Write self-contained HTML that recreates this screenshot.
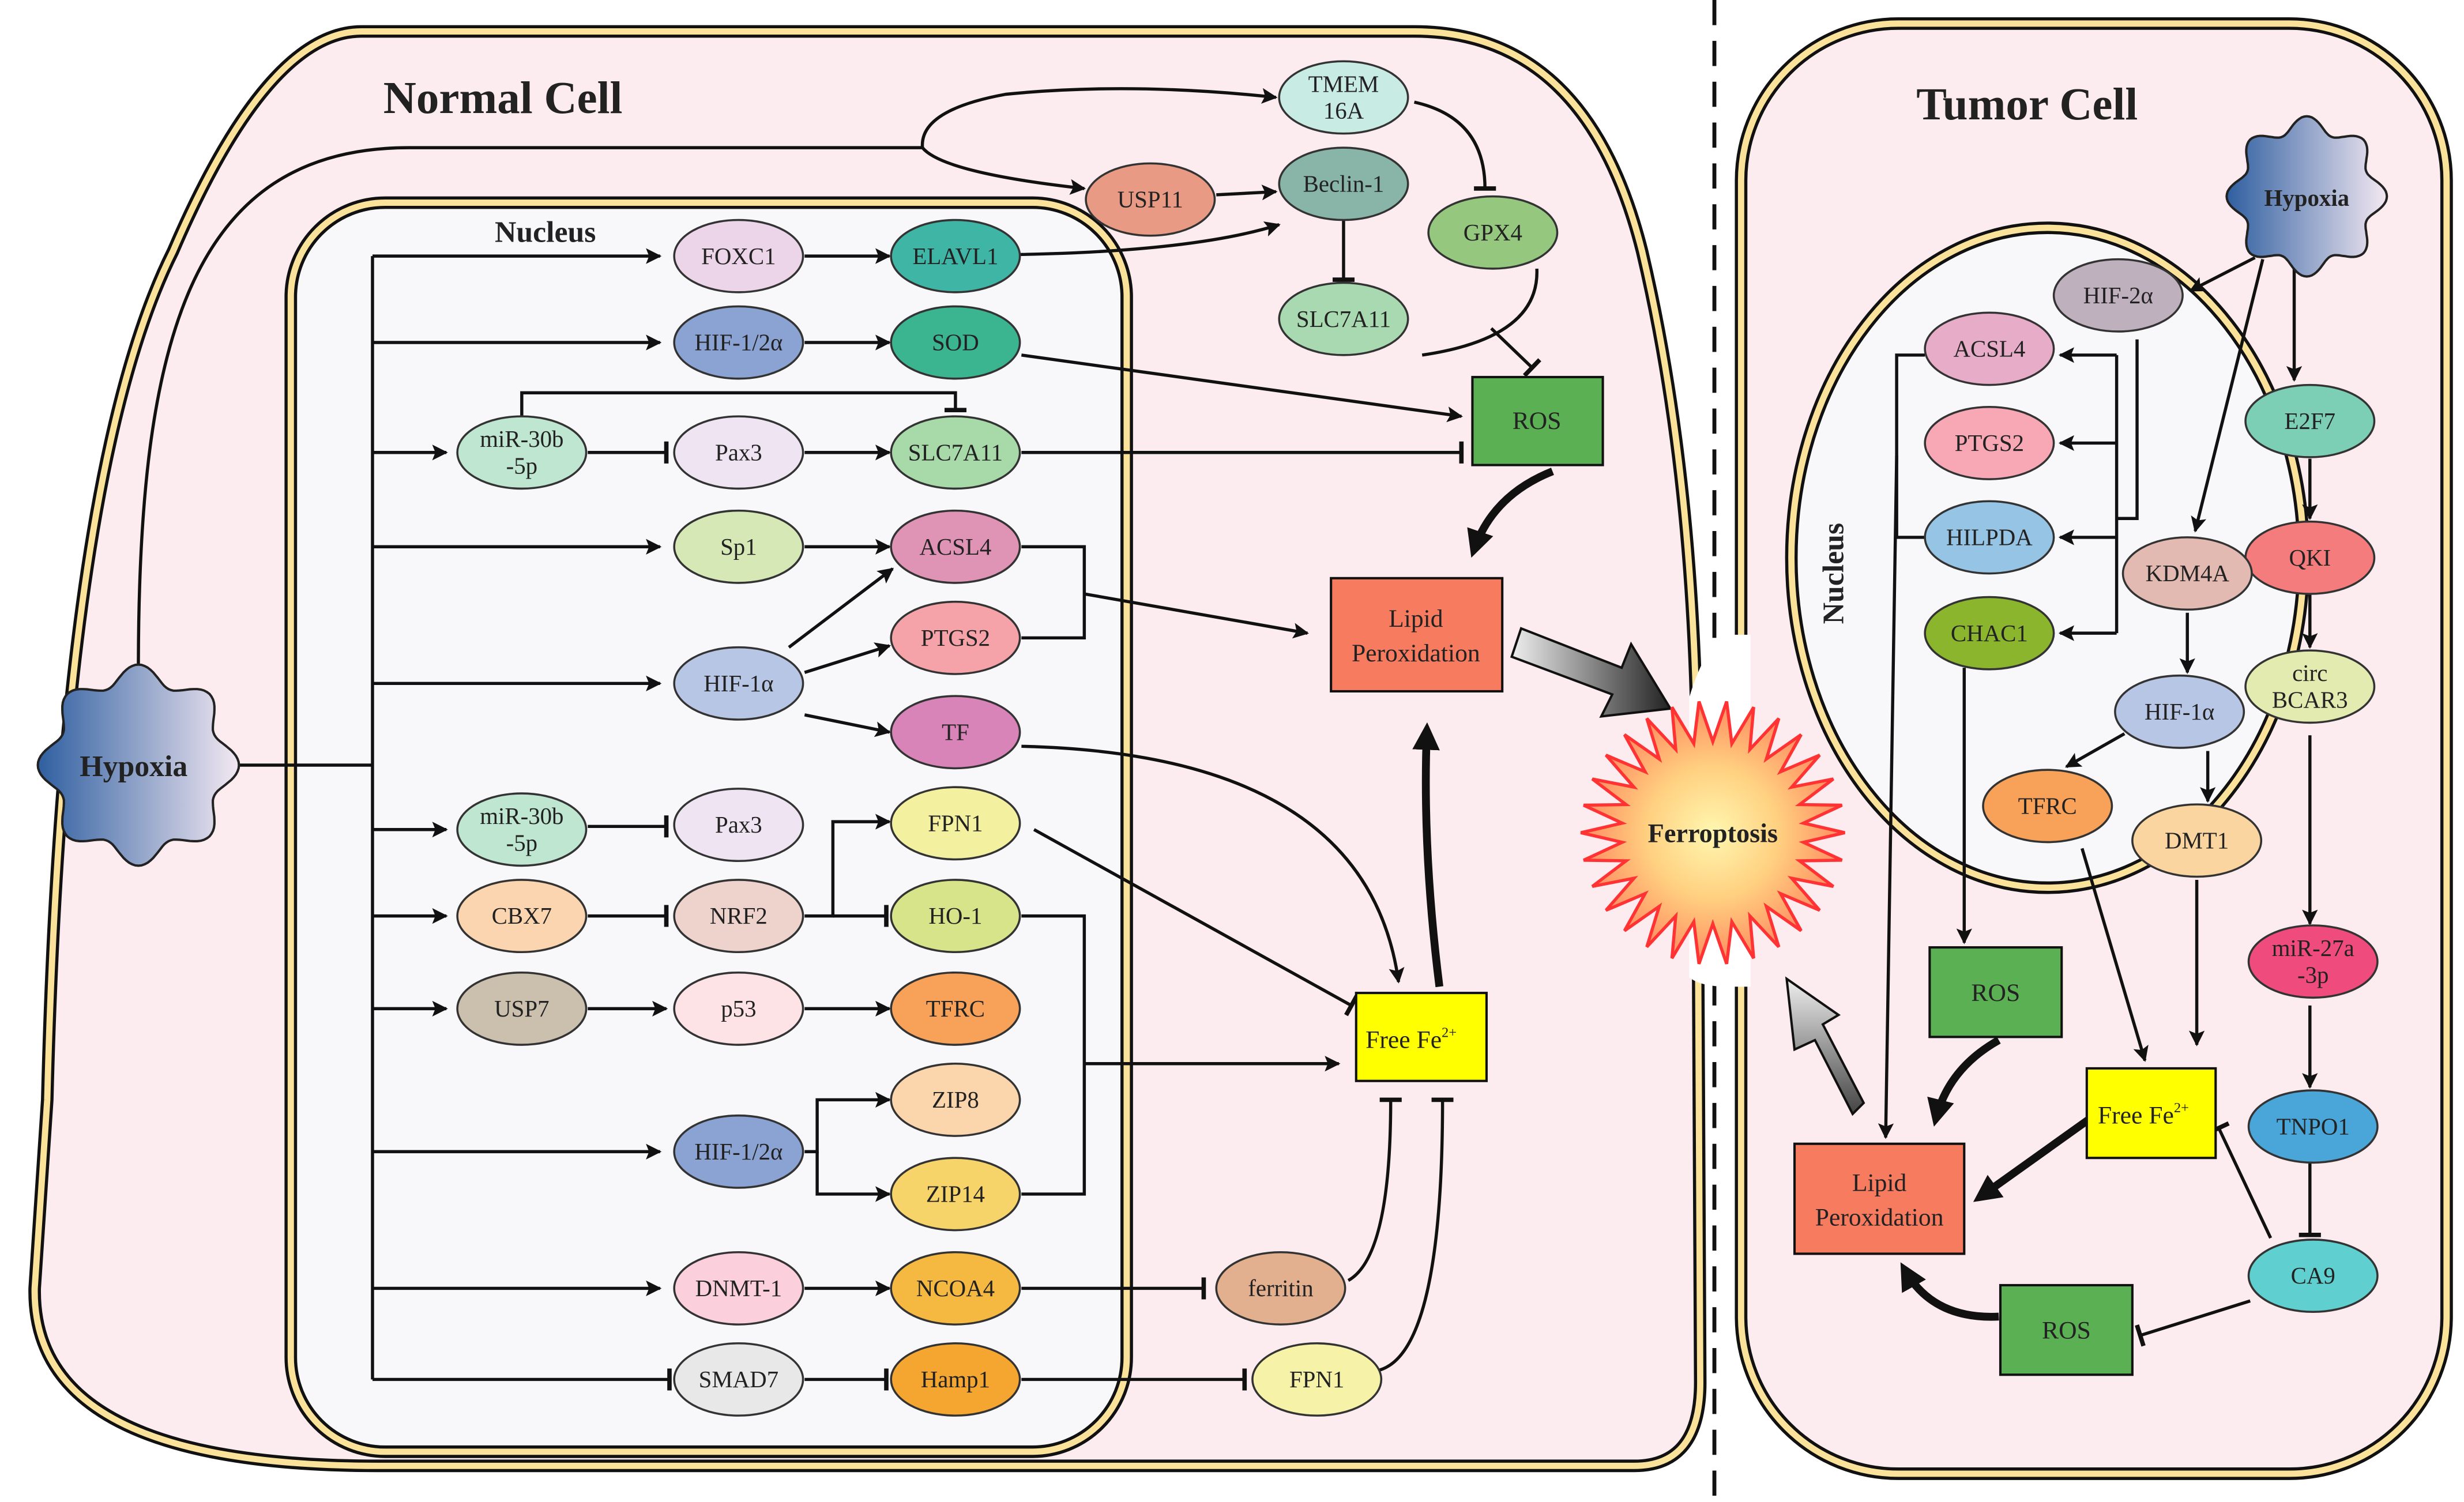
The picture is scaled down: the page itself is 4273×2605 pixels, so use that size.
<!DOCTYPE html>
<html><head><meta charset="utf-8"><style>
html,body{margin:0;padding:0;background:#fff;}
svg{display:block;}
text{font-family:"Liberation Serif",serif;fill:#222;}
.n text{font-size:15px;}
</style></head><body>
<svg width="4273" height="2605" viewBox="0 0 1568 956" xmlns="http://www.w3.org/2000/svg">
<defs>
<marker id="a" viewBox="0 0 10 10" refX="9" refY="5" markerWidth="5" markerHeight="5" orient="auto"><path d="M0,0 L10,5 L0,10 L2,5 Z" fill="#111"/></marker>
<marker id="t" viewBox="0 0 4 20" refX="2" refY="10" markerWidth="2" markerHeight="7" orient="auto"><rect x="0" y="0" width="4" height="20" fill="#111"/></marker>
<marker id="ab" viewBox="0 0 10 10" refX="7" refY="5" markerWidth="3.5" markerHeight="3.5" orient="auto"><path d="M0,0 L10,5 L0,10 Z" fill="#111"/></marker>
<radialGradient id="fg" cx="50%" cy="50%" r="50%"><stop offset="0" stop-color="#fff7b0"/><stop offset="0.5" stop-color="#ffd080"/><stop offset="1" stop-color="#ff8a60"/></radialGradient>
<linearGradient id="hg" x1="0" y1="0" x2="1" y2="0"><stop offset="0" stop-color="#2f5fa0"/><stop offset="1" stop-color="#f3e8f2"/></linearGradient>
<linearGradient id="bg" x1="0" y1="0" x2="1" y2="0"><stop offset="0" stop-color="#eee"/><stop offset="1" stop-color="#222"/></linearGradient>
<linearGradient id="bg2" x1="0" y1="1" x2="0" y2="0"><stop offset="0" stop-color="#444"/><stop offset="1" stop-color="#eee"/></linearGradient>
</defs>

<path d="M230,20 L900,20 Q1010,20 1045,160 Q1078,300 1080,480 L1082,880 Q1082,933 1040,933 L240,933 Q20,933 22,820 L30,700 Q40,300 110,160 Q170,20 230,20 Z" fill="#fdecef" stroke="#111" stroke-width="8"/>
<path d="M230,20 L900,20 Q1010,20 1045,160 Q1078,300 1080,480 L1082,880 Q1082,933 1040,933 L240,933 Q20,933 22,820 L30,700 Q40,300 110,160 Q170,20 230,20 Z" fill="none" stroke="#fbe29a" stroke-width="4"/>
<rect x="185" y="129" width="532" height="795" rx="60" fill="#f8f8fb" stroke="#111" stroke-width="8"/>
<rect x="185" y="129" width="532" height="795" rx="60" fill="none" stroke="#fbe29a" stroke-width="4"/>

<rect x="1108" y="15" width="449" height="923" rx="100" fill="#fdecef" stroke="#111" stroke-width="8"/>
<rect x="1108" y="15" width="449" height="923" rx="100" fill="none" stroke="#fbe29a" stroke-width="4"/>
<ellipse cx="1303" cy="355" rx="163" ry="210" fill="#f8f8fb" stroke="#111" stroke-width="8"/>
<ellipse cx="1303" cy="355" rx="163" ry="210" fill="none" stroke="#fbe29a" stroke-width="4"/>

<line x1="1091" y1="0" x2="1091" y2="956" stroke="#111" stroke-width="2.5" stroke-dasharray="16,10"/>
<path d="M1075,444 Q1085,410 1100,404 L1114,404 L1114,628 L1100,628 Q1082,628 1075,622 Z" fill="#fff"/>

<text x="320" y="72" font-size="29" font-weight="bold" text-anchor="middle" fill="#111">Normal Cell</text>
<text x="347" y="154" font-size="19" font-weight="bold" text-anchor="middle">Nucleus</text>
<text x="1290" y="76" font-size="29" font-weight="bold" text-anchor="middle">Tumor Cell</text>
<text x="1173" y="365" font-size="19" font-weight="bold" text-anchor="middle" transform="rotate(-90 1173 365)">Nucleus</text>

<g fill="none" stroke="#111" stroke-width="2">
<line x1="150" y1="487" x2="237" y2="487"/>
<line x1="237" y1="163" x2="237" y2="878"/>
<line x1="237" y1="163" x2="420" y2="163" marker-end="url(#a)"/>
<line x1="237" y1="218" x2="420" y2="218" marker-end="url(#a)"/>
<line x1="237" y1="348" x2="420" y2="348" marker-end="url(#a)"/>
<line x1="237" y1="435" x2="420" y2="435" marker-end="url(#a)"/>
<line x1="237" y1="733" x2="420" y2="733" marker-end="url(#a)"/>
<line x1="237" y1="820" x2="420" y2="820" marker-end="url(#a)"/>
<line x1="237" y1="878" x2="426" y2="878" marker-end="url(#t)"/>
<line x1="237" y1="288" x2="284" y2="288" marker-end="url(#a)"/>
<line x1="237" y1="528" x2="284" y2="528" marker-end="url(#a)"/>
<line x1="237" y1="583" x2="284" y2="583" marker-end="url(#a)"/>
<line x1="237" y1="642" x2="284" y2="642" marker-end="url(#a)"/>
<path d="M88,425 C88,220 120,94 260,94 L587,94"/>
<path d="M587,94 Q585,70 640,60 Q720,52 812,62" marker-end="url(#a)"/>
<path d="M587,94 Q600,110 690,120" marker-end="url(#a)"/>
<line x1="512" y1="163" x2="566" y2="163" marker-end="url(#a)"/>
<line x1="512" y1="218" x2="566" y2="218" marker-end="url(#a)"/>
<line x1="374" y1="288" x2="424" y2="288" marker-end="url(#t)"/>
<line x1="512" y1="288" x2="566" y2="288" marker-end="url(#a)"/>
<path d="M332,265 L332,250 L608,250 L608,261" marker-end="url(#t)"/>
<line x1="512" y1="348" x2="566" y2="348" marker-end="url(#a)"/>
<line x1="502" y1="412" x2="568" y2="362" marker-end="url(#a)"/>
<line x1="512" y1="428" x2="566" y2="411" marker-end="url(#a)"/>
<line x1="512" y1="455" x2="566" y2="466" marker-end="url(#a)"/>
<path d="M650,348 L690,348 L690,406 L650,406"/>
<line x1="690" y1="378" x2="832" y2="403" marker-end="url(#a)"/>
<line x1="374" y1="526" x2="424" y2="526" marker-end="url(#t)"/>
<line x1="374" y1="583" x2="424" y2="583" marker-end="url(#t)"/>
<path d="M512,583 L530,583 L530,523 L566,523" marker-end="url(#a)"/>
<line x1="530" y1="583" x2="564" y2="583" marker-end="url(#t)"/>
<line x1="374" y1="642" x2="424" y2="642" marker-end="url(#a)"/>
<line x1="512" y1="642" x2="566" y2="642" marker-end="url(#a)"/>
<path d="M512,733 L520,733 L520,700 L566,700" marker-end="url(#a)"/>
<path d="M520,733 L520,760 L566,760" marker-end="url(#a)"/>
<path d="M650,583 L690,583 L690,760 L650,760"/>
<line x1="690" y1="677" x2="852" y2="677" marker-end="url(#a)"/>
<line x1="512" y1="820" x2="566" y2="820" marker-end="url(#a)"/>
<line x1="512" y1="878" x2="564" y2="878" marker-end="url(#t)"/>
<line x1="650" y1="820" x2="766" y2="820" marker-end="url(#t)"/>
<line x1="650" y1="878" x2="792" y2="878" marker-end="url(#t)"/>
<path d="M858,815 Q885,800 885,700" marker-end="url(#t)"/>
<path d="M878,872 Q918,860 918,700" marker-end="url(#t)"/>
<path d="M650,475 Q870,480 890,625" marker-end="url(#a)"/>
<line x1="658" y1="528" x2="860" y2="640" marker-end="url(#t)"/>
<path d="M648,162 Q760,160 814,143" marker-end="url(#a)"/>
<line x1="774" y1="124" x2="812" y2="122" marker-end="url(#a)"/>
<path d="M900,65 Q945,75 945,120" marker-end="url(#t)"/>
<line x1="855" y1="140" x2="855" y2="178" marker-end="url(#t)"/>
<path d="M978,171 Q980,215 905,226"/>
<line x1="949" y1="209" x2="975" y2="234" marker-end="url(#t)"/>
<line x1="650" y1="226" x2="930" y2="265" marker-end="url(#a)"/>
<line x1="650" y1="288" x2="930" y2="288" marker-end="url(#t)"/>

<line x1="1435" y1="164" x2="1394" y2="185" marker-end="url(#a)"/>
<line x1="1440" y1="165" x2="1397" y2="338" marker-end="url(#a)"/>
<line x1="1460" y1="170" x2="1460" y2="242" marker-end="url(#a)"/>
<path d="M1360,216 L1360,330 L1347,330"/>
<path d="M1347,226 L1347,403"/>
<line x1="1347" y1="226" x2="1311" y2="226" marker-end="url(#a)"/>
<line x1="1347" y1="282" x2="1311" y2="282" marker-end="url(#a)"/>
<line x1="1347" y1="342" x2="1311" y2="342" marker-end="url(#a)"/>
<line x1="1347" y1="403" x2="1311" y2="403" marker-end="url(#a)"/>
<path d="M1225,226 L1207,226 L1207,342 L1225,342"/>
<line x1="1207" y1="290" x2="1200" y2="724" marker-end="url(#a)"/>
<line x1="1250" y1="425" x2="1250" y2="600" marker-end="url(#a)"/>
<line x1="1470" y1="292" x2="1470" y2="330" marker-end="url(#a)"/>
<line x1="1470" y1="378" x2="1470" y2="412" marker-end="url(#a)"/>
<line x1="1470" y1="468" x2="1470" y2="588" marker-end="url(#a)"/>
<line x1="1470" y1="640" x2="1470" y2="692" marker-end="url(#a)"/>
<line x1="1470" y1="740" x2="1470" y2="786" marker-end="url(#t)"/>
<line x1="1392" y1="390" x2="1392" y2="428" marker-end="url(#a)"/>
<line x1="1352" y1="467" x2="1315" y2="488" marker-end="url(#a)"/>
<line x1="1405" y1="478" x2="1405" y2="510" marker-end="url(#a)"/>
<line x1="1325" y1="540" x2="1365" y2="675" marker-end="url(#a)"/>
<line x1="1398" y1="560" x2="1398" y2="665" marker-end="url(#a)"/>
<line x1="1445" y1="788" x2="1412" y2="718" marker-end="url(#t)"/>
<line x1="1432" y1="828" x2="1362" y2="850" marker-end="url(#t)"/>
</g>

<g fill="none" stroke="#111" stroke-width="5">
<path d="M988,300 Q950,315 938,350" marker-end="url(#ab)"/>
<path d="M916,628 Q905,540 908,465" marker-end="url(#ab)"/>
<path d="M1272,662 Q1240,680 1232,712" marker-end="url(#ab)"/>
<line x1="1330" y1="712" x2="1260" y2="762" marker-end="url(#ab)"/>
<path d="M1272,838 Q1230,840 1212,808" marker-end="url(#ab)"/>
</g>
<polygon points="968,400 1032,425 1038,410 1063,451 1019,456 1026,442 962,418" fill="url(#bg)" stroke="#111" stroke-width="1.5"/>
<polygon points="1179,709 1155,662 1142,668 1137,623 1170,646 1160,652 1186,702" fill="url(#bg2)" stroke="#111" stroke-width="1.5"/>

<polygon id="ferro" fill="url(#fg)" stroke="#f33" stroke-width="2" points=""/>
<path id="hyp1" fill="url(#hg)" stroke="#222" stroke-width="1.5" d=""/>
<path id="hyp2" fill="url(#hg)" stroke="#222" stroke-width="1.5" d=""/>
<text x="1090" y="536" font-size="17" font-weight="bold" text-anchor="middle">Ferroptosis</text>
<text x="85" y="494" font-size="19" font-weight="bold" text-anchor="middle">Hypoxia</text>
<text x="1468" y="131" font-size="15" font-weight="bold" text-anchor="middle">Hypoxia</text>

<g stroke="#111" stroke-width="1.5">
<rect x="937" y="240" width="83" height="56" fill="#5cb054"/>
<rect x="847" y="368" width="109" height="72" fill="#f77b5f"/>
<rect x="863" y="632" width="83" height="56" fill="#ffff00"/>
<rect x="1228" y="603" width="84" height="57" fill="#5cb054"/>
<rect x="1328" y="680" width="82" height="57" fill="#ffff00"/>
<rect x="1142" y="728" width="108" height="70" fill="#f77b5f"/>
<rect x="1273" y="818" width="84" height="57" fill="#5cb054"/>
</g>
<g font-size="16" text-anchor="middle">
<text x="978" y="273">ROS</text>
<text x="901" y="399">Lipid</text><text x="901" y="421">Peroxidation</text>
<text x="898" y="667">Free Fe<tspan font-size="9" dy="-7">2+</tspan></text>
<text x="1270" y="637">ROS</text>
<text x="1364" y="715">Free Fe<tspan font-size="9" dy="-7">2+</tspan></text>
<text x="1196" y="758">Lipid</text><text x="1196" y="780">Peroxidation</text>
<text x="1315" y="852">ROS</text>
</g>

<g class="n" stroke="#333" stroke-width="1.3" id="nodes"></g>
<g id="labels" font-size="15" text-anchor="middle"></g>

<script>
var N=[
[470,163,"#ecd5e8",["FOXC1"]],[608,163,"#3fb5a6",["ELAVL1"]],
[470,218,"#8aa3d3",["HIF-1/2α"]],[608,218,"#3ab58f",["SOD"]],
[332,288,"#bfe6d0",["miR-30b","-5p"]],[470,288,"#efe4f2",["Pax3"]],[608,288,"#a8d9a8",["SLC7A11"]],
[470,348,"#d5e8b5",["Sp1"]],[608,348,"#e094b5",["ACSL4"]],
[470,435,"#b8c6e6",["HIF-1α"]],[608,406,"#f5a3a8",["PTGS2"]],[608,466,"#d884b8",["TF"]],
[332,528,"#bfe6d0",["miR-30b","-5p"]],[470,525,"#efe4f2",["Pax3"]],[608,524,"#f3f0a0",["FPN1"]],
[332,583,"#fbd5b0",["CBX7"]],[470,583,"#eed3cc",["NRF2"]],[608,583,"#d8e48a",["HO-1"]],
[332,642,"#cbbfae",["USP7"]],[470,642,"#fde3e6",["p53"]],[608,642,"#f7a258",["TFRC"]],
[608,700,"#fbd5ab",["ZIP8"]],[470,733,"#8aa3d3",["HIF-1/2α"]],[608,760,"#f7d46a",["ZIP14"]],
[470,820,"#fbd0dc",["DNMT-1"]],[608,820,"#f5b942",["NCOA4"]],
[470,878,"#e8e8e8",["SMAD7"]],[608,878,"#f5a630",["Hamp1"]],
[815,820,"#e3b08f",["ferritin"]],[838,878,"#f6f2a8",["FPN1"]],
[855,62,"#c8ebe3",["TMEM","16A"]],[732,127,"#e89a85",["USP11"]],[855,117,"#88b5a8",["Beclin-1"]],
[950,148,"#95c77f",["GPX4"]],[855,203,"#a8d9b0",["SLC7A11"]],
[1348,188,"#bfb0bd",["HIF-2α"]],[1266,222,"#e6acc8",["ACSL4"]],[1266,282,"#f8a8b5",["PTGS2"]],
[1266,342,"#96c4e5",["HILPDA"]],[1266,403,"#8ab52c",["CHAC1"]],[1470,268,"#7ccfb4",["E2F7"]],
[1470,355,"#f57c7c",["QKI"]],[1392,365,"#e2bab2",["KDM4A"]],[1470,437,"#e3ebb0",["circ","BCAR3"]],
[1387,453,"#b8c6e6",["HIF-1α"]],[1303,513,"#f7a258",["TFRC"]],[1398,535,"#fbd5a0",["DMT1"]],
[1472,612,"#f04b7d",["miR-27a","-3p"]],[1472,717,"#4aa5d8",["TNPO1"]],[1472,812,"#5fcfcf",["CA9"]]
];
var ns="http://www.w3.org/2000/svg",g=document.getElementById("nodes"),L=document.getElementById("labels");
N.forEach(function(d){var e=document.createElementNS(ns,"ellipse");e.setAttribute("cx",d[0]);e.setAttribute("cy",d[1]);e.setAttribute("rx",41);e.setAttribute("ry",23);e.setAttribute("fill",d[2]);g.appendChild(e);
var lines=d[3];lines.forEach(function(s,i){var t=document.createElementNS(ns,"text");t.setAttribute("x",d[0]);t.setAttribute("y",d[1]+5+(i-(lines.length-1)/2)*17);t.textContent=s;L.appendChild(t);});});
var p=[];for(var i=0;i<60;i++){var a=i*Math.PI/30,r=i%2?58:84;p.push((1090+r*Math.cos(a)).toFixed(1)+","+(530+r*Math.sin(a)).toFixed(1));}
document.getElementById("ferro").setAttribute("points",p.join(" "));
function hyp(id,cx,cy,R,k){var s="";for(var i=0;i<=200;i++){var a=i*2*Math.PI/200,r=R+k*Math.cos(8*a);s+=(i?"L":"M")+(cx+r*Math.cos(a)).toFixed(1)+","+(cy+r*Math.sin(a)).toFixed(1);}document.getElementById(id).setAttribute("d",s+"Z");}
hyp("hyp1",88,487,58,6);hyp("hyp2",1468,125,46,5);
</script>
</svg>
</body></html>
